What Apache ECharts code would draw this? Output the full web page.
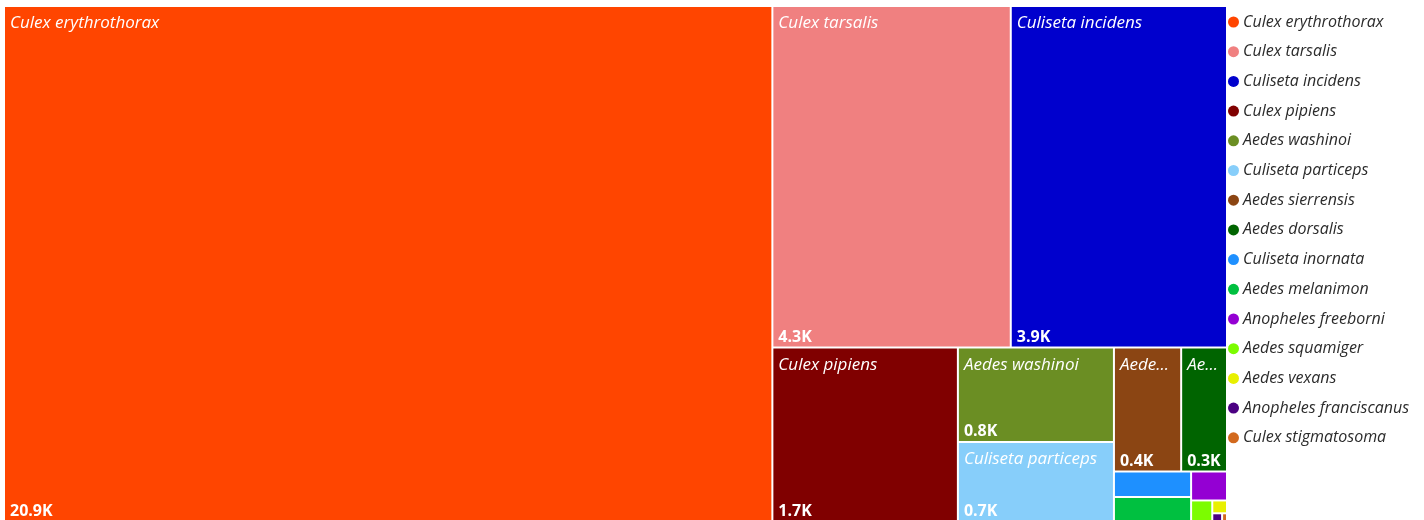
<!DOCTYPE html>
<html>
<head>
<meta charset="utf-8">
<script src="https://cdn.jsdelivr.net/npm/echarts@6/dist/echarts.min.js"></script>
<style>
  html, body { margin: 0; padding: 0; background: #fff; }
  #main { width: 1424px; height: 520px; }
</style>
</head>
<body>
<div id="main"></div>
<script>
/*########## data ##########*/
var species = [
  "Culex erythrothorax", "Culex tarsalis", "Culiseta incidens", "Culex pipiens",
  "Aedes washinoi", "Culiseta particeps", "Aedes sierrensis", "Aedes dorsalis",
  "Culiseta inornata", "Aedes melanimon", "Anopheles freeborni", "Aedes squamiger",
  "Aedes vexans", "Anopheles franciscanus", "Culex stigmatosoma"
];
var counts = [20900, 4300, 3900, 1700, 778, 652, 440, 300, 104, 98, 55, 23, 10, 4, 2];
var colors = [
  "#FF4500", "#F08080", "#0000CD", "#800000", "#6B8E23", "#87CEFA", "#8B4513", "#006400",
  "#1E90FF", "#00C040", "#9400D3", "#7CFC00", "#E8F000", "#4B0082", "#D2691E"
];
var labelMin = 250; //小块不显示标签

var font = "'Open Sans', 'Noto Sans', sans-serif";

function fmtK(v) {
  return (v / 1000).toFixed(1) + "K";
}

// 名称层（带颜色）
var treeData = species.map(function (name, i) {
  return {
    name: name,
    value: counts[i],
    itemStyle: { color: colors[i] },
    label: { show: counts[i] >= labelMin }
  };
});
// 数值层（透明，叠在上面，只显示底部数值）
var valueData = species.map(function (name, i) {
  return {
    name: name,
    value: counts[i],
    itemStyle: { color: "rgba(0,0,0,0)" },
    label: { show: counts[i] >= labelMin }
  };
});
// 图例用的隐藏饼图
var pieData = species.map(function (name, i) {
  return { name: name, value: counts[i], itemStyle: { color: colors[i] } };
});

var box = { left: 5, top: 7, right: 198, bottom: 0 };

var myChart = echarts.init(document.getElementById("main"));
var option = {
  backgroundColor: "#fff",
  animation: false,
  color: ["rgba(0,0,0,0)"],
  legend: {
    orient: "vertical",
    left: 1228,
    top: 14,
    padding: 0,
    icon: "circle",
    itemWidth: 11,
    itemHeight: 11,
    itemGap: 13.7,
    data: species,
    textStyle: {
      color: "#2b2b2b",
      fontSize: 16,
      lineHeight: 16,
      fontStyle: "italic",
      fontFamily: font,
      padding: [0, 0, 0, -1]
    }
  },
  series: [
    {
      name: "names",
      type: "treemap",
      left: box.left, top: box.top, right: box.right, bottom: box.bottom,
      roam: false,
      nodeClick: false,
      breadcrumb: { show: false },
      itemStyle: { borderWidth: 0, gapWidth: 2, borderColor: "#fff" },
      label: {
        show: true,
        position: "insideTopLeft",
        padding: [8, 5, 0, 5],
        color: "#fff",
        fontSize: 17,
        fontStyle: "italic",
        fontFamily: font,
        formatter: "{b}"
      },
      data: treeData
    },
    {
      name: "values",
      type: "treemap",
      left: box.left, top: box.top, right: box.right, bottom: box.bottom,
      roam: false,
      nodeClick: false,
      silent: true,
      breadcrumb: { show: false },
      itemStyle: { borderWidth: 0, gapWidth: 2 },
      label: {
        show: true,
        position: "insideBottomLeft",
        verticalAlign: "bottom",
        padding: [2, 2, 1, 5],
        color: "#fff",
        fontSize: 16,
        fontWeight: "bold",
        fontFamily: font,
        formatter: function (p) { return fmtK(p.value); }
      },
      data: valueData
    },
    {
      name: "legend",
      type: "pie",
      radius: [0, 0],
      center: [-100, -100],
      silent: true,
      label: { show: false },
      labelLine: { show: false },
      data: pieData
    }
  ]
};
if (option && typeof option === "object") {
  myChart.setOption(option, true);
}
</script>
</body>
</html>
